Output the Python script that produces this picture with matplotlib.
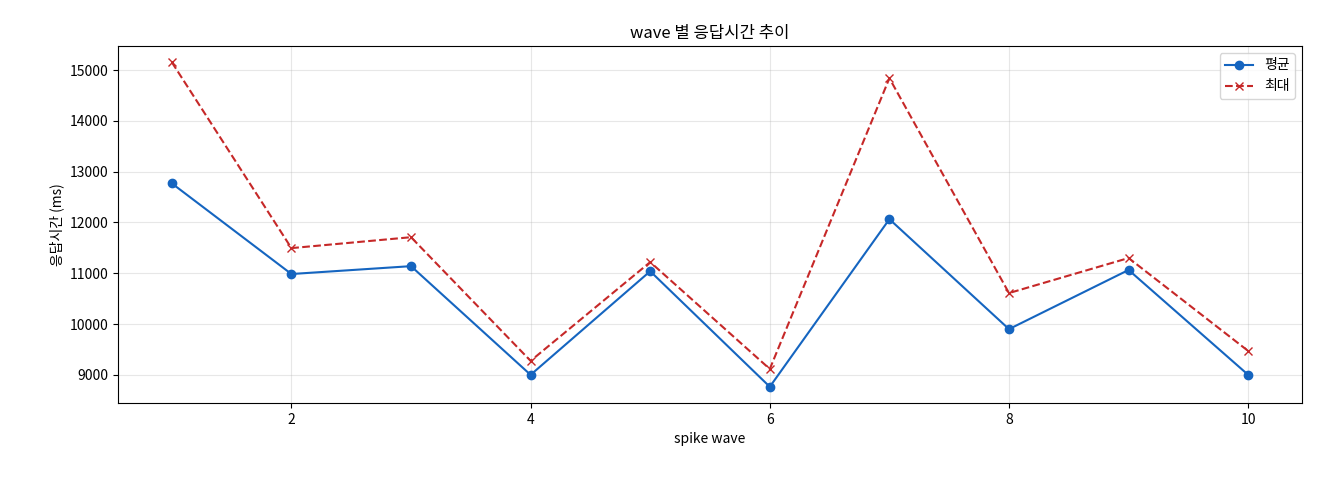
import matplotlib
matplotlib.use("Agg")
import matplotlib.pyplot as plt

plt.rcParams['font.family'] = ['Noto Sans CJK KR', 'DejaVu Sans']

waves = [1, 2, 3, 4, 5, 6, 7, 8, 9, 10]
avg_ms = [12770, 10985, 11140, 9000, 11040, 8765, 12065, 9900, 11065, 9000]
max_ms = [15155, 11495, 11710, 9275, 11220, 9115, 14840, 10610, 11300, 9470]

fig = plt.figure(figsize=(13.2, 4.8), dpi=100)
ax = fig.add_axes([118/1320, 1-403/480, (1302-118)/1320, (403-46)/480])
ax.plot(waves, avg_ms, marker='o', color='#1565c0', label='평균')
ax.plot(waves, max_ms, marker='x', linestyle='--', color='#c62828', label='최대')
ax.set_title('wave 별 응답시간 추이')
ax.set_xlabel('spike wave')
ax.set_ylabel('응답시간 (ms)')
ax.grid(True, alpha=0.3)
ax.legend(loc='upper right')
fig.savefig('out.png')
